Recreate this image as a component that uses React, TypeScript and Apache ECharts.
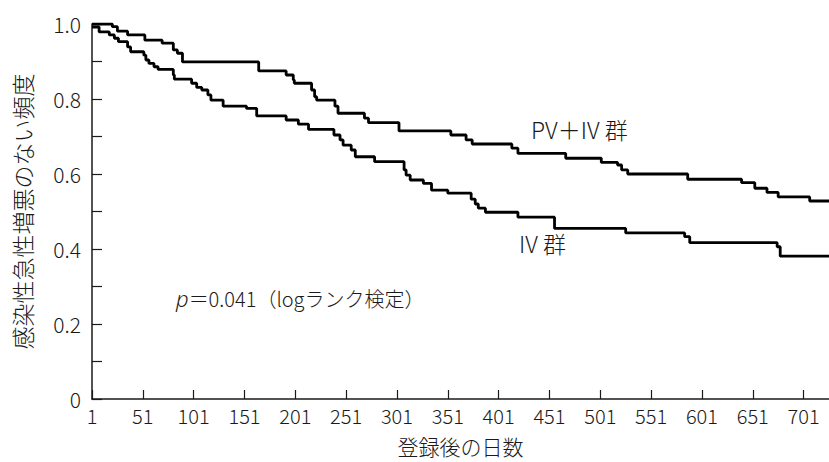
import React, { useEffect, useRef } from "react";
import * as echarts from "echarts";

const pvivDays = [1, 21, 26, 36, 53, 70, 81, 85, 90, 165, 192, 199, 200, 217, 220, 222, 240, 243, 269, 273, 303, 354, 369, 375, 414, 420, 467, 502, 518, 522, 528, 587, 640, 653, 665, 676, 707, 726];
const pvivSurv = [1.0, 0.993, 0.981, 0.971, 0.957, 0.949, 0.931, 0.922, 0.899, 0.875, 0.864, 0.851, 0.842, 0.824, 0.806, 0.797, 0.781, 0.762, 0.749, 0.737, 0.715, 0.704, 0.691, 0.68, 0.669, 0.655, 0.642, 0.631, 0.624, 0.611, 0.6, 0.586, 0.577, 0.562, 0.551, 0.539, 0.528, 0.528];

const ivDays = [1, 8, 18, 23, 27, 36, 39, 52, 54, 57, 62, 66, 81, 82, 99, 104, 109, 115, 118, 130, 153, 163, 192, 204, 214, 239, 245, 248, 256, 260, 279, 308, 310, 314, 327, 335, 351, 374, 378, 381, 388, 420, 456, 526, 584, 589, 675, 678, 726];
const ivSurv = [0.992, 0.979, 0.971, 0.962, 0.953, 0.939, 0.926, 0.917, 0.904, 0.895, 0.886, 0.879, 0.864, 0.853, 0.842, 0.831, 0.824, 0.811, 0.797, 0.781, 0.775, 0.755, 0.744, 0.733, 0.719, 0.704, 0.691, 0.677, 0.664, 0.646, 0.633, 0.611, 0.597, 0.584, 0.575, 0.557, 0.549, 0.533, 0.52, 0.509, 0.498, 0.485, 0.455, 0.443, 0.433, 0.417, 0.406, 0.381, 0.381];

const xTickValues = [1, 51, 101, 151, 201, 251, 301, 351, 401, 451, 501, 551, 601, 651, 701];
const yTickValues = [0, 0.2, 0.4, 0.6, 0.8, 1.0];

const xTitle = "登録後の日数";
const yTitle = "感染性急性増悪のない頻度";
const pvivLabel = "PV＋IV 群";
const ivLabel = "IV 群";

const FONT = "'Noto Sans CJK JP', 'Noto Sans', sans-serif";
const INK = "#1a1a1a";
const W = 300;

export default function App() {
  const ref = useRef<HTMLDivElement>(null);
  useEffect(() => {
    document.body.style.margin = "0";
    if (!ref.current) return;
    const chart = echarts.init(ref.current, undefined, { renderer: "svg" });
    const pv = pvivDays.map((d, i) => [d, pvivSurv[i]]);
    const iv = ivDays.map((d, i) => [d, ivSurv[i]]);
    chart.setOption({
      animation: false,
      backgroundColor: "#ffffff",
      textStyle: { fontFamily: FONT, color: INK, fontWeight: W },
      grid: { left: 92, right: 0, top: 24, bottom: 63, containLabel: false, outerBoundsMode: "none" },
      xAxis: {
        type: "value",
        min: 1,
        max: 726,
        name: xTitle,
        nameLocation: "middle",
        nameGap: 36,
        nameTextStyle: { fontSize: 21, color: INK, fontFamily: FONT, fontWeight: W },
        axisLine: { show: true, lineStyle: { color: INK, width: 1.5 } },
        axisTick: { show: true, inside: true, length: 9, customValues: xTickValues, lineStyle: { color: INK, width: 1.2 } },
        axisLabel: { customValues: xTickValues, fontSize: 20, color: INK, margin: 6, fontFamily: FONT, fontWeight: W },
        splitLine: { show: false },
      },
      yAxis: {
        type: "value",
        min: 0,
        max: 1,
        interval: 0.2,
        name: yTitle,
        nameLocation: "middle",
        nameGap: 59,
        nameRotate: 90,
        nameTextStyle: { fontSize: 23, color: INK, fontFamily: FONT, fontWeight: W },
        axisLine: { show: true, lineStyle: { color: INK, width: 1.5 } },
        axisTick: { show: true, inside: true, length: 10, lineStyle: { color: INK, width: 1.2 } },
        minorTick: { show: true, splitNumber: 2, length: 10, lineStyle: { color: INK, width: 1.2 } },
        axisLabel: {
          fontSize: 21,
          color: INK,
          margin: 11,
          fontFamily: FONT,
          fontWeight: W,
          customValues: yTickValues,
          formatter: (v: number) => (v === 0 ? "0" : v.toFixed(1)),
        },
        splitLine: { show: false },
      },
      series: [
        {
          name: pvivLabel,
          type: "line",
          step: "end",
          data: pv,
          showSymbol: false,
          lineStyle: { color: "#000", width: 2.8 },
        },
        {
          name: ivLabel,
          type: "line",
          step: "end",
          data: iv,
          showSymbol: false,
          lineStyle: { color: "#000", width: 2.8 },
        },
      ],
      graphic: [
        { type: "text", left: 531, top: 117, style: { text: pvivLabel, fontSize: 23, fill: INK, fontFamily: FONT, fontWeight: W } },
        { type: "text", left: 519, top: 231, style: { text: ivLabel, fontSize: 23, fill: INK, fontFamily: FONT, fontWeight: W } },
        {
          type: "text",
          left: 176,
          top: 287,
          style: {
            text: "{i|p}＝0.041（logランク検定）",
            fontSize: 20,
            fill: INK,
            fontFamily: FONT,
            fontWeight: W,
            rich: { i: { fontStyle: "italic", fontWeight: 300, fontSize: 22, fontFamily: "'Noto Sans', sans-serif", fill: INK } },
          },
        },
      ],
    });
    return () => chart.dispose();
  }, []);
  return <div ref={ref} style={{ width: 829, height: 462 }} />;
}
